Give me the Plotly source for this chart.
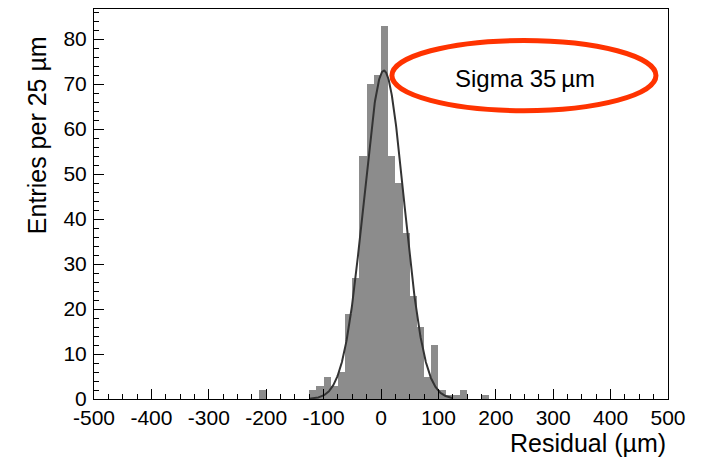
import numpy as np
import plotly.graph_objects as go

# Residual histogram: lower bin edges (µm) and entries per bin
bin_width = 12.5
bin_low = [-212.5, -125, -112.5, -100, -87.5, -75, -62.5, -50, -37.5, -25, -12.5,
           0, 12.5, 25, 37.5, 50, 62.5, 75, 87.5, 100, 112.5, 125, 137.5, 175]
entries = [2, 2, 3, 5, 3, 6, 19, 27, 54, 70, 72,
           83, 54, 48, 37, 23, 16, 5, 12, 2, 1, 1, 2, 1]

# Gaussian fit parameters
fit_amp = 73.0
fit_mean = 5.0
fit_sigma = 35.0
fit_range = (-125.0, 125.0)

x_ticks = [-500, -400, -300, -200, -100, 0, 100, 200, 300, 400, 500]
x_tick_text = ["-500", "-400", "-300", "-200", "-100", "0", "100", "200", "300", "400", "500"]
y_ticks = [0, 10, 20, 30, 40, 50, 60, 70, 80]

FONT = "Liberation Sans, Arial, Helvetica, sans-serif"

fig = go.Figure()

fig.add_trace(go.Bar(
    x=bin_low, y=entries, width=bin_width, offset=0,
    marker=dict(color="#8c8c8c", line=dict(width=0)),
    hoverinfo="x+y", showlegend=False,
))

xf = np.linspace(fit_range[0], fit_range[1], 400)
yf = fit_amp * np.exp(-0.5 * ((xf - fit_mean) / fit_sigma) ** 2)
fig.add_trace(go.Scatter(
    x=xf, y=yf, mode="lines",
    line=dict(color="#333333", width=2),
    showlegend=False, hoverinfo="skip",
))

fig.update_layout(
    width=717, height=458,
    margin=dict(l=94, r=49, t=9, b=59),
    paper_bgcolor="white", plot_bgcolor="white",
    bargap=0,
    font=dict(family=FONT, color="black"),
    xaxis=dict(
        range=[-500, 500], tickvals=x_ticks, ticktext=x_tick_text,
        ticks="inside", ticklen=10, tickwidth=1, tickcolor="black",
        minor=dict(dtick=25, tick0=0, ticks="inside", ticklen=5, tickcolor="black"),
        showline=True, linecolor="black", linewidth=1, mirror=True,
        showgrid=False, zeroline=False,
        tickfont=dict(size=21, family=FONT, color="black"),
        ticklabelstandoff=0,
    ),
    yaxis=dict(
        range=[0, 86.7], tickvals=y_ticks,
        ticks="inside", ticklen=10, tickwidth=1, tickcolor="black",
        minor=dict(dtick=2, tick0=0, ticks="inside", ticklen=5, tickcolor="black"),
        showline=True, linecolor="black", linewidth=1, mirror=True,
        showgrid=False, zeroline=False,
        tickfont=dict(size=21, family=FONT, color="black"),
        ticklabelstandoff=2,
    ),
    shapes=[dict(
        type="circle", xref="x", yref="y",
        x0=19, x1=479, y0=64.1, y1=79.7,
        line=dict(color="#ff3300", width=5),
        fillcolor="rgba(0,0,0,0)",
    )],
    annotations=[
        dict(text="Sigma 35\u2009µm", xref="x", yref="y", x=251, y=71.3,
             showarrow=False, font=dict(size=24, family=FONT, color="black"),
             xanchor="center", yanchor="middle"),
        dict(text="Residual (µm)", xref="paper", yref="paper", x=1.0, y=-0.073,
             showarrow=False, font=dict(size=25, family=FONT, color="black"),
             xanchor="right", yanchor="top"),
        dict(text="Entries per 25 µm", xref="paper", yref="paper", x=-0.07, y=0.935,
             textangle=-90, showarrow=False,
             font=dict(size=25, family=FONT, color="black"),
             xanchor="right", yanchor="top"),
    ],
)

fig.write_html("out.html")
